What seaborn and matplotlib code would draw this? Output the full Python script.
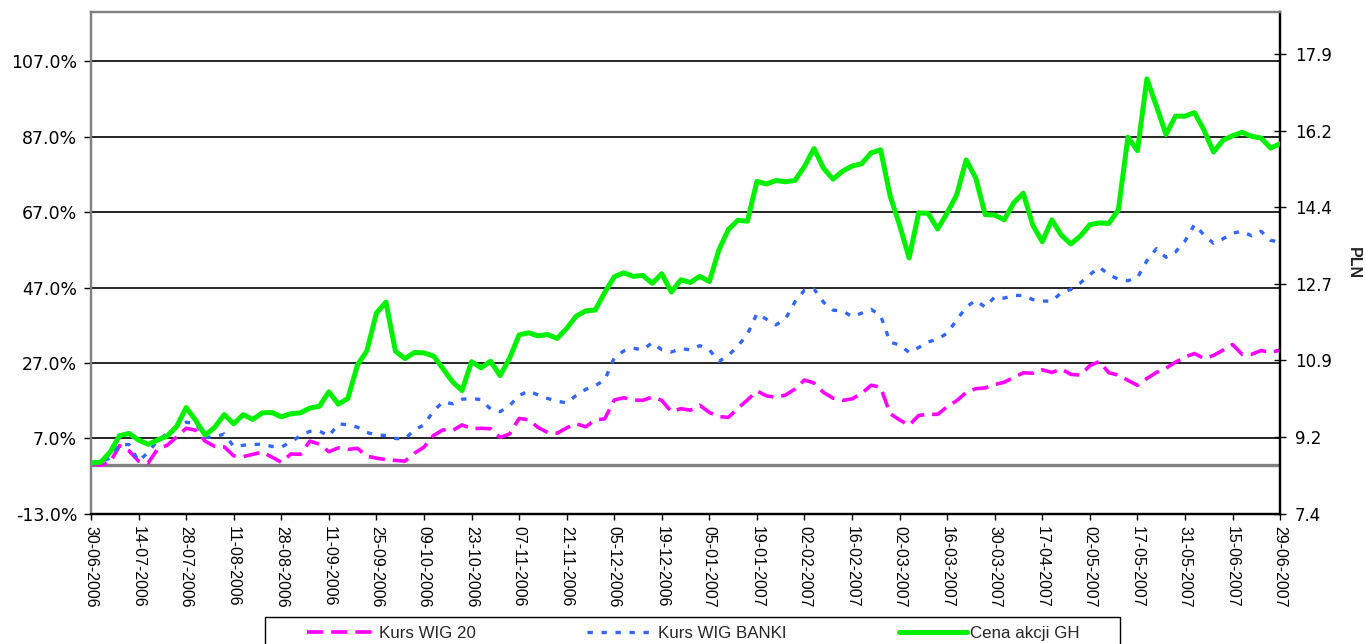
import numpy as np
import pandas as pd
import matplotlib
matplotlib.use("Agg")
import matplotlib.pyplot as plt
import matplotlib.patches as mpatches
import seaborn as sns
from matplotlib.ticker import FuncFormatter

# ============================
# DATA (every 2nd trading day)
# ============================

DATE_LABELS = [
    "30-06-2006", "14-07-2006", "28-07-2006", "11-08-2006", "28-08-2006",
    "11-09-2006", "25-09-2006", "09-10-2006", "23-10-2006", "07-11-2006",
    "21-11-2006", "05-12-2006", "19-12-2006", "05-01-2007", "19-01-2007",
    "02-02-2007", "16-02-2007", "02-03-2007", "16-03-2007", "30-03-2007",
    "17-04-2007", "02-05-2007", "17-05-2007", "31-05-2007", "15-06-2007",
    "29-06-2007",
]
LABEL_EVERY = 10   # trading days between date labels
SAMPLE_EVERY = 2   # trading days between stored values

# Kurs WIG 20, change in %
WIG20 = [
    0.3, -0.1, 0.7, 5.1, 3.7, 1.0, 0.5, 4.2, 5.2, 7.4,
    9.7, 9.2, 6.3, 4.9, 4.8, 2.4, 2.2, 2.8, 3.4, 2.1,
    0.7, 2.9, 2.8, 6.3, 5.5, 3.5, 4.5, 4.1, 4.4, 2.3,
    1.8, 1.4, 1.2, 1.0, 3.1, 4.7, 7.8, 9.3, 9.1, 10.6,
    9.6, 9.7, 9.6, 7.3, 8.2, 12.3, 12.0, 9.9, 8.6, 8.4,
    9.8, 10.9, 10.1, 11.9, 12.2, 17.2, 17.8, 17.2, 17.1, 18.0,
    17.1, 14.1, 14.9, 14.5, 15.8, 13.9, 12.8, 12.6, 15.0, 17.2,
    19.6, 18.3, 17.9, 18.5, 20.1, 22.5, 21.7, 19.2, 17.7, 17.1,
    17.5, 18.9, 21.1, 20.6, 13.6, 11.9, 10.5, 13.1, 13.4, 13.4,
    15.4, 17.0, 19.2, 20.2, 20.4, 21.3, 21.9, 23.2, 24.4, 24.3,
    25.2, 24.5, 25.4, 24.0, 23.8, 26.3, 27.4, 24.4, 23.8, 22.4,
    21.1, 22.9, 24.5, 25.6, 27.2, 28.6, 29.5, 28.2, 29.0, 30.4,
    31.9, 29.3, 29.3, 30.3, 29.8, 30.4,
]

# Kurs WIG BANKI, change in %
WIG_BANKI = [
    0.3, 0.8, 1.8, 5.4, 5.4, 1.0, 3.3, 6.5, 8.3, 10.1,
    11.3, 11.0, 7.3, 7.4, 8.2, 4.9, 5.2, 5.4, 5.5, 4.9,
    4.7, 6.1, 7.7, 8.9, 9.0, 7.6, 10.9, 10.6, 10.0, 8.6,
    7.9, 7.8, 7.0, 6.9, 9.3, 10.6, 14.3, 16.7, 16.2, 17.4,
    17.6, 17.3, 14.8, 14.1, 15.7, 18.4, 19.6, 18.5, 17.6, 16.9,
    16.4, 18.4, 20.0, 21.0, 22.5, 28.4, 30.2, 30.9, 30.5, 32.4,
    30.5, 29.9, 30.8, 30.5, 31.6, 30.5, 27.4, 29.0, 31.5, 34.6,
    40.1, 38.6, 37.1, 38.7, 43.2, 46.3, 46.6, 43.1, 41.0, 40.8,
    39.3, 40.2, 41.2, 39.6, 32.5, 31.8, 29.8, 31.1, 32.6, 33.3,
    34.9, 38.4, 41.8, 43.6, 41.8, 44.5, 44.2, 44.9, 44.9, 43.8,
    43.4, 43.4, 45.6, 46.5, 48.2, 50.4, 52.4, 50.4, 49.2, 48.8,
    49.6, 54.1, 57.3, 55.0, 56.4, 59.3, 63.7, 60.9, 58.7, 59.9,
    61.4, 61.9, 60.7, 61.9, 59.5, 59.0,
]

# Cena akcji GH, PLN
GH_PLN = [
    8.56, 8.57, 8.80, 9.18, 9.23, 9.08, 8.98, 9.08, 9.17, 9.39,
    9.82, 9.53, 9.19, 9.37, 9.66, 9.45, 9.66, 9.55, 9.70, 9.71,
    9.61, 9.68, 9.70, 9.81, 9.85, 10.18, 9.90, 10.03, 10.79, 11.12,
    11.98, 12.23, 11.11, 10.94, 11.08, 11.07, 11.00, 10.71, 10.41, 10.21,
    10.87, 10.73, 10.88, 10.55, 10.95, 11.48, 11.53, 11.46, 11.49, 11.40,
    11.63, 11.91, 12.03, 12.05, 12.45, 12.81, 12.90, 12.82, 12.84, 12.66,
    12.88, 12.46, 12.74, 12.68, 12.82, 12.70, 13.42, 13.89, 14.10, 14.08,
    14.99, 14.93, 15.01, 14.98, 15.01, 15.33, 15.74, 15.29, 15.04, 15.22,
    15.34, 15.39, 15.64, 15.71, 14.66, 13.99, 13.24, 14.27, 14.26, 13.90,
    14.27, 14.68, 15.48, 15.07, 14.23, 14.22, 14.11, 14.50, 14.72, 13.99,
    13.61, 14.11, 13.76, 13.56, 13.74, 14.00, 14.04, 14.03, 14.34, 16.00,
    15.69, 17.33, 16.71, 16.06, 16.48, 16.48, 16.56, 16.16, 15.66, 15.93,
    16.03, 16.11, 16.02, 15.98, 15.75, 15.85,
]

PCT_TICKS = [-13, 7, 27, 47, 67, 87, 107]
PLN_TICKS = [7.4, 9.15, 10.9, 12.65, 14.4, 16.15, 17.9]
PLN_LABELS = ["7.4", "9.2", "10.9", "12.7", "14.4", "16.2", "17.9"]

SERIES = ["Kurs WIG 20", "Kurs WIG BANKI", "Cena akcji GH"]
COLORS = ["#FF00FF", "#3366FF", "#00F000"]

df = pd.DataFrame({
    "day": np.arange(len(WIG20)) * SAMPLE_EVERY,
    "wig20": WIG20,
    "banki": WIG_BANKI,
    "gh": GH_PLN,
})

# ============================
# PLOT
# ============================

sns.set_theme(style="ticks")
plt.rcParams["font.family"] = ["Liberation Sans", "DejaVu Sans"]
FS = 11.5

fig = plt.figure(figsize=(13.65, 6.44), dpi=100)
ax = fig.add_axes([0.0667, 0.2019, 0.8711, 0.7795])
ax2 = ax.twinx()

ax.axhline(0, color="#808080", lw=2.4, zorder=1)
sns.lineplot(data=df, x="day", y="wig20", ax=ax, color=COLORS[0], lw=2.6,
             linestyle=(0, (4.5, 2.2)), label=SERIES[0], zorder=3)
sns.lineplot(data=df, x="day", y="banki", ax=ax, color=COLORS[1], lw=2.4,
             linestyle=(0, (1.6, 2.6)), label=SERIES[1], zorder=3)
sns.lineplot(data=df, x="day", y="gh", ax=ax2, color=COLORS[2], lw=3.6,
             label=SERIES[2], zorder=3)

# axes ranges / ticks
ax.set_xlim(df["day"].iloc[0], df["day"].iloc[-1])
ax.set_ylim(-13, 120)
ax2.set_ylim(7.39, 18.86)

ax.set_yticks(PCT_TICKS)
ax.yaxis.set_major_formatter(FuncFormatter(lambda v, p: f"{v:.1f}%"))
ax2.set_yticks(PLN_TICKS)
ax2.set_yticklabels(PLN_LABELS)

ax.set_xticks(np.arange(len(DATE_LABELS)) * LABEL_EVERY)
ax.set_xticklabels(DATE_LABELS, rotation=-90)

ax.grid(axis="y", color="black", lw=1.2)
ax.set_axisbelow(True)

ax.tick_params(axis="y", direction="out", length=5, width=1, pad=5,
               labelsize=12.5, labelfontfamily="DejaVu Sans", colors="black")
ax.tick_params(axis="x", direction="out", length=4, width=1, pad=5,
               labelsize=FS, colors="black")
ax2.tick_params(axis="y", direction="inout", length=9, width=1, pad=6,
                labelsize=12, labelfontfamily="DejaVu Sans", colors="black")

for a in (ax, ax2):
    a.spines["left"].set_color("#808080")
    a.spines["top"].set_color("#808080")
    a.spines["right"].set_color("black")
    a.spines["bottom"].set_color("black")
    for s in a.spines.values():
        s.set_linewidth(1.6)

ax.set_xlabel("")
ax.set_ylabel("")
ax2.set_xlabel("")
ax2.set_ylabel("PLN", rotation=270, fontweight="bold", fontsize=FS,
               labelpad=10, va="bottom")

# legend below the plot (frame drawn separately, it runs off the bottom edge)
h1, l1 = ax.get_legend_handles_labels()
h2, l2 = ax2.get_legend_handles_labels()
ax.get_legend().remove()
ax2.get_legend().remove()
fig.legend(h1 + h2, l1 + l2, loc="upper center",
           bbox_to_anchor=(0.508, 0.05), ncol=3, fontsize=12.2,
           frameon=False, handlelength=4.0, handletextpad=0.2,
           columnspacing=6.6, borderpad=0.35)
fig.patches.append(mpatches.Rectangle(
    (265 / 1365, -0.02), (1120 - 265) / 1365, 27 / 644 + 0.02,
    transform=fig.transFigure, fill=False, edgecolor="black", lw=1.0))

fig.savefig("out.png", dpi=100)
plt.close(fig)
print("Saved: out.png")
